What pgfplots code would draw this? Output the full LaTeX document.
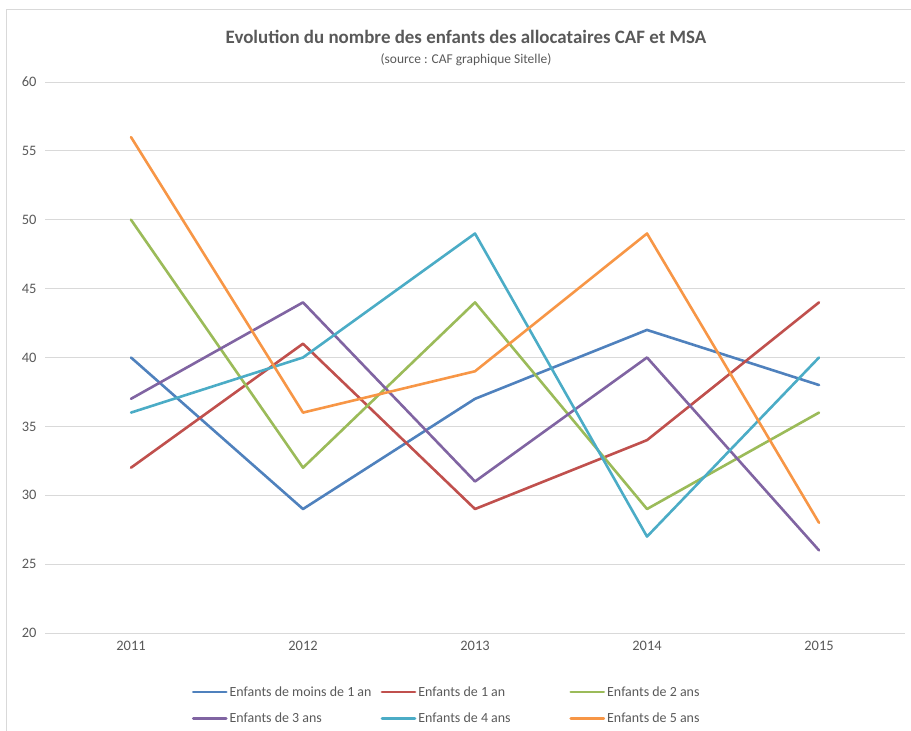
\documentclass[border=0pt]{standalone}
\usepackage{fontspec}
\setmainfont{Carlito}
\usepackage{pgfplots}
\pgfplotsset{compat=1.18}

\definecolor{cblue}{HTML}{4F81BD}
\definecolor{cred}{HTML}{C0504D}
\definecolor{cgreen}{HTML}{9BBB59}
\definecolor{cpurple}{HTML}{8064A2}
\definecolor{ccyan}{HTML}{4BACC6}
\definecolor{corange}{HTML}{F79646}
\definecolor{textgray}{HTML}{595959}
\definecolor{gridgray}{HTML}{D9D9D9}

\newcommand{\legtxt}[1]{\makebox[149bp][l]{#1}}

\begin{document}
\begin{tikzpicture}[x=1bp,y=1bp]
\path[use as bounding box] (0,0) rectangle (911,731);
\draw[gridgray, line width=1bp] (6.5,0) -- (6.5,721.5) -- (911,721.5);
\node[font=\fontsize{19}{22}\selectfont\bfseries, text=textgray] at (466,694)
  {Evolution du nombre des enfants des allocataires CAF et MSA};
\node[font=\fontsize{13.5}{16}\selectfont, text=textgray] at (466,671)
  {(source : CAF graphique Sitelle)};

\begin{axis}[
    at={(45bp,98bp)}, anchor=south west,
    scale only axis,
    width=860bp, height=551bp,
    xmin=-0.5, xmax=4.5,
    ymin=20, ymax=60,
    ytick={20,25,...,60},
    xtick={0,1,2,3,4},
    xticklabels={2011,2012,2013,2014,2015},
    ymajorgrids,
    grid style={gridgray, line width=0.75bp},
    axis line style={draw=none},
    major tick style={draw=none},
    ticklabel style={font=\fontsize{14.5}{16}\selectfont, text=textgray},
    /pgf/number format/assume math mode=true,
    yticklabel style={xshift=-5bp},
    xticklabel style={yshift=-5bp},
    legend columns=3,
    legend cell align=left,
    legend style={draw=none, fill=none, at={(0.5,-0.093)}, anchor=north,
        font=\fontsize{14}{16}\selectfont, text=textgray,
        inner sep=0pt, row sep=11bp,
        /tikz/every even column/.append style={column sep=0pt}},
    legend image code/.code={\draw[#1, line width=2.8bp] (0bp,0bp) -- (33bp,0bp);},
    every axis plot/.append style={line width=2.6bp, line join=round, line cap=round},
]
\addplot[cblue] coordinates {(0,40) (1,29) (2,37) (3,42) (4,38)};
\addlegendentry{\legtxt{Enfants de moins de 1 an}}
\addplot[cred] coordinates {(0,32) (1,41) (2,29) (3,34) (4,44)};
\addlegendentry{\legtxt{Enfants de 1 an}}
\addplot[cgreen] coordinates {(0,50) (1,32) (2,44) (3,29) (4,36)};
\addlegendentry{\legtxt{Enfants de 2 ans}}
\addplot[cpurple] coordinates {(0,37) (1,44) (2,31) (3,40) (4,26)};
\addlegendentry{\legtxt{Enfants de 3 ans}}
\addplot[ccyan] coordinates {(0,36) (1,40) (2,49) (3,27) (4,40)};
\addlegendentry{\legtxt{Enfants de 4 ans}}
\addplot[corange] coordinates {(0,56) (1,36) (2,39) (3,49) (4,28)};
\addlegendentry{\legtxt{Enfants de 5 ans}}
\end{axis}
\end{tikzpicture}
\end{document}
